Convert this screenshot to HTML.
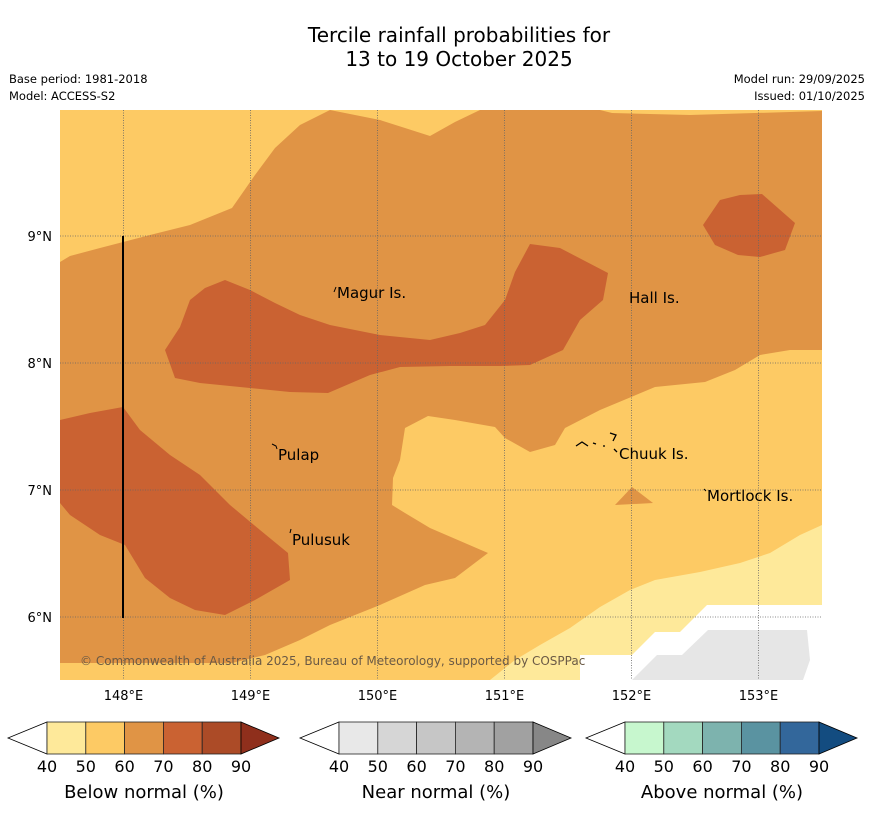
<!DOCTYPE html>
<html><head><meta charset="utf-8"><style>
body{margin:0;background:#fff;font-family:"Liberation Sans","DejaVu Sans",sans-serif;}
#wrap{position:relative;width:873px;height:816px;overflow:hidden;}
.t{position:absolute;white-space:nowrap;}
</style></head><body>
<div id="wrap">
<div class="t" style="left:0;width:918px;top:23px;text-align:center;font-size:20px;line-height:24px;font-family:'DejaVu Sans',sans-serif;">Tercile rainfall probabilities for<br>13 to 19 October 2025</div>
<div class="t" style="left:9px;top:72px;font-size:11.5px;font-family:'DejaVu Sans',sans-serif;">Base period: 1981-2018</div>
<div class="t" style="left:9px;top:89px;font-size:11.5px;font-family:'DejaVu Sans',sans-serif;">Model: ACCESS-S2</div>
<div class="t" style="right:8px;top:72px;font-size:11.5px;font-family:'DejaVu Sans',sans-serif;">Model run: 29/09/2025</div>
<div class="t" style="right:8px;top:89px;font-size:11.5px;font-family:'DejaVu Sans',sans-serif;">Issued: 01/10/2025</div>
<svg id="map" width="873" height="816" style="position:absolute;left:0;top:0" font-family="DejaVu Sans, sans-serif">
<defs><clipPath id="mc"><rect x="60" y="110" width="762" height="570"/></clipPath></defs>
<g clip-path="url(#mc)">
<rect x="60" y="110" width="762" height="570" fill="#e09445"/>
<polygon fill="#fdca64" points="60,110 330,110 300,125 275,148 255,175 232,208 190,225 150,235 100,248 70,256 60,262"/>
<polygon fill="#fdca64" points="330,110 480,110 455,122 430,136 380,120"/>
<polygon fill="#fdca64" points="600,110 822,110 822,111 690,115 612,113"/>
<polygon fill="#fdca64" points="822,350 790,350 760,355 735,370 705,382 655,387 600,410 565,428 555,445 530,452 505,438 495,427 455,420 428,416 405,428 400,460 393,478 392,505 405,513 430,528 488,553 455,578 425,585 380,605 330,625 300,640 265,655 232,663 60,663 60,680 822,680"/>
<polygon fill="#e09445" points="615,505 632,487 653,503"/>
<polygon fill="#fee99a" points="822,525 800,535 770,553 740,563 700,572 655,580 630,590 600,607 570,628 540,645 515,660 490,680 822,680"/>
<polygon fill="#ffffff" points="580,655 632,655 655,632 680,632 707,605 822,605 822,680 580,680"/>
<polygon fill="#e6e6e6" points="632,680 657,655 682,655 708,630 807,630 810,660 803,680"/>
<polygon fill="#ca6232" points="165,350 180,327 190,300 205,288 225,280 250,290 275,303 300,315 330,325 380,335 430,340 460,333 485,325 505,300 515,272 530,244 560,248 608,273 603,300 580,320 563,350 530,365 500,366 450,366 400,367 370,375 328,393 290,392 240,387 200,383 175,378"/>
<polygon fill="#ca6232" points="60,420 90,413 123,407 140,430 170,455 200,475 230,505 260,530 288,553 290,580 255,600 225,615 195,610 170,598 145,578 125,545 100,535 70,515 60,503"/>
<polygon fill="#ca6232" points="703,225 720,200 740,195 762,194 795,223 785,250 760,257 738,255 715,245"/>
<g id="grid" stroke="#666" stroke-width="0.8" stroke-dasharray="1,1.5"></g>
<line x1="123" y1="236" x2="123" y2="618" stroke="#000" stroke-width="2"/>
</g>
<g id="axes" font-size="13"></g>
<g font-size="15" fill="#000">
<text x="337" y="298">Magur Is.</text><path d="M334,292 l2,-5" stroke="#000"/>
<text x="629" y="303">Hall Is.</text>
<text x="278" y="460">Pulap</text><path d="M272,444 l4,2 l1,3" stroke="#000" fill="none"/>
<text x="292" y="545">Pulusuk</text><path d="M290,533 l1,-4" stroke="#000"/>
<text x="619" y="459">Chuuk Is.</text>
<path d="M576,446 l6,-4 l6,4 M593,443 l3,1 M603,446 l2,0 M610,433 l6,2 l-3,6 M614,449 l3,3" stroke="#000" fill="none" stroke-width="1.3"/>
<text x="707" y="501">Mortlock Is.</text><path d="M704,489 l2,2" stroke="#000"/>
</g>
<text x="80" y="665" font-size="12" fill="#6b5a45">© Commonwealth of Australia 2025, Bureau of Meteorology, supported by COSPPac</text>
<g id="bars"></g>
</svg>
</div>
<script>
const lonTicks=[148,149,150,151,152,153];
const latTicks=[9,8,7,6];
const cbTicks=[40,50,60,70,80,90];
const cbTitles=["Below normal (%)","Near normal (%)","Above normal (%)"];
const cbColors=[["#fee99a","#fdca64","#e09445","#ca6232","#ac4b27","#8f2f1c"],["#e8e8e8","#d6d6d6","#c6c6c6","#b4b4b4","#a1a1a1","#878787"],["#c7f7ce","#a3d9bf","#7db3ae","#5a93a1","#33679b","#134c80"]];
const NS="http://www.w3.org/2000/svg";
const x=lon=>60+(lon-147.5)*127;
const y=lat=>110+(9.992-lat)*127;
function mk(t,a,p){const e=document.createElementNS(NS,t);for(const k in a)e.setAttribute(k,a[k]);p.appendChild(e);return e;}
const grid=document.getElementById('grid'),axes=document.getElementById('axes');
lonTicks.forEach(v=>{
 const l=mk('line',{x1:x(v),x2:x(v),y1:110,y2:680},grid);
 
 
 const t=mk('text',{x:x(v),y:700,'text-anchor':'middle'},axes);t.textContent=v+'°E';
 
 
});
latTicks.forEach(v=>{
 const l=mk('line',{x1:60,x2:822,y1:y(v),y2:y(v)},grid);
 
 
 const t=mk('text',{x:52,y:y(v)+5,'text-anchor':'end'},axes);t.textContent=v+'°N';
 
 
});
const bars=document.getElementById('bars');
const starts=[8,300,586];
starts.forEach((s,i)=>{
 const g=mk('g',{},bars);
 
 
 const r0=s+39,w=38.8,top=722,bot=754,mid=738;
 mk('polygon',{points:`${s},${mid} ${r0},${top} ${r0},${bot}`,fill:'#fff',stroke:'#000','stroke-width':0.8},g);
 for(let k=0;k<5;k++)mk('rect',{x:r0+k*w,y:top,width:w,height:bot-top,fill:cbColors[i][k],stroke:'#222','stroke-width':0.8},g);
 const re=r0+5*w;
 mk('polygon',{points:`${re},${top} ${re+38},${mid} ${re},${bot}`,fill:cbColors[i][5],stroke:'#000','stroke-width':0.8},g);
 cbTicks.forEach((v,k)=>{const t=mk('text',{x:r0+k*w,y:772,'text-anchor':'middle','font-size':16},g);t.textContent=v;
  
  });
 const tt=mk('text',{x:r0+2.5*w,y:798,'text-anchor':'middle','font-size':18},g);tt.textContent=cbTitles[i];
 
 
});
</script>
</body></html>
